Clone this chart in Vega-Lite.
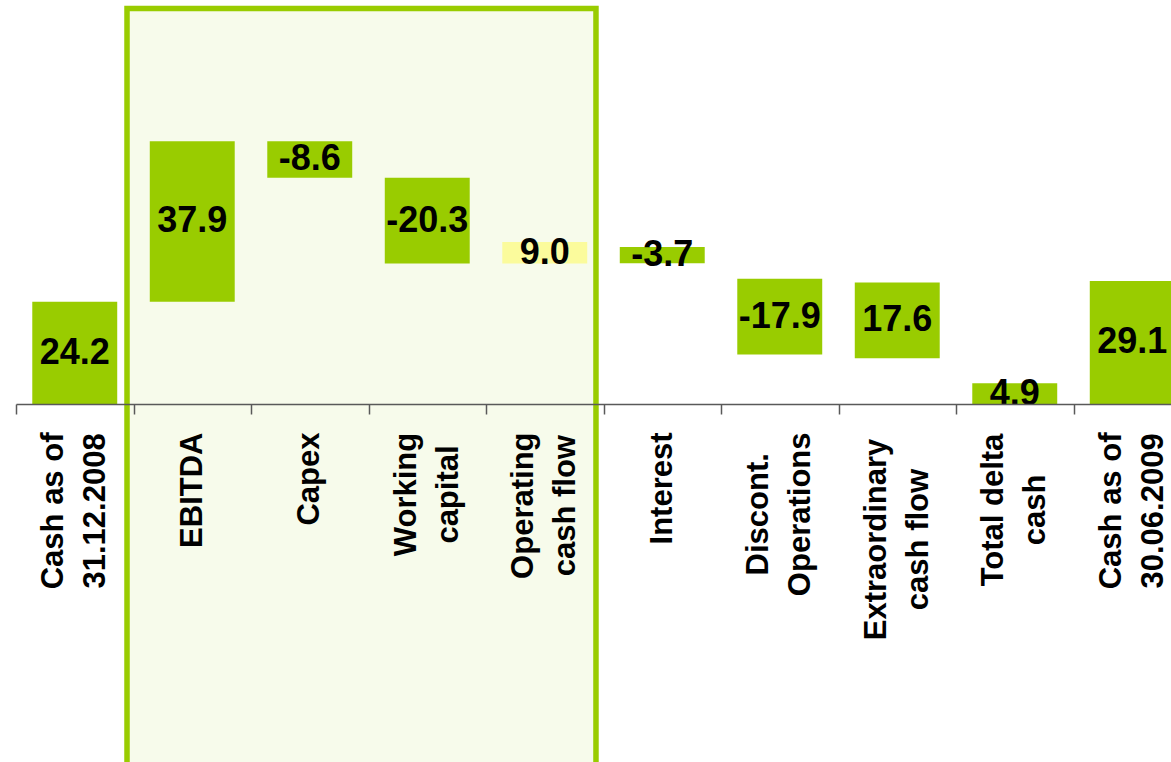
{
  "$schema": "https://vega.github.io/schema/vega-lite/v6.json",
  "width": 1175,
  "height": 404,
  "padding": {"left": 15, "top": 0, "right": 0, "bottom": 0},
  "background": "white",
  "config": {"view": {"stroke": null}},
  "datasets": {
    "steps": [
      {"cat": "Cash as of|31.12.2008", "low": 0, "high": 24.2, "label": "24.2", "kind": "flow"},
      {"cat": "EBITDA", "low": 24.2, "high": 62.1, "label": "37.9", "kind": "flow"},
      {"cat": "Capex", "low": 53.5, "high": 62.1, "label": "-8.6", "kind": "flow"},
      {"cat": "Working|capital", "low": 33.2, "high": 53.5, "label": "-20.3", "kind": "flow"},
      {"cat": "Operating|cash flow", "low": 33.2, "high": 38.3, "label": "9.0", "kind": "highlight"},
      {"cat": "Interest", "low": 33.3, "high": 37.1, "label": "-3.7", "kind": "flow"},
      {"cat": "Discont.|Operations", "low": 11.7, "high": 29.6, "label": "-17.9", "kind": "flow"},
      {"cat": "Extraordinary|cash flow", "low": 10.8, "high": 28.7, "label": "17.6", "kind": "flow"},
      {"cat": "Total delta|cash", "low": 0, "high": 4.9, "label": "4.9", "kind": "flow"},
      {"cat": "Cash as of|30.06.2009", "low": 0, "high": 29.1, "label": "29.1", "kind": "flow"}
    ],
    "box": [
      {"first": "EBITDA", "last": "Operating|cash flow", "top": 93.5, "bottom": -95}
    ]
  },
  "layer": [
    {
      "data": {"name": "box"},
      "mark": {"type": "rect", "fill": "#99cc00", "fillOpacity": 0.08, "stroke": "#99cc00", "strokeWidth": 5.5},
      "encoding": {
        "x": {
          "field": "first", "type": "nominal", "bandPosition": -0.0553,
          "scale": {
            "domain": ["Cash as of|31.12.2008", "EBITDA", "Capex", "Working|capital", "Operating|cash flow", "Interest", "Discont.|Operations", "Extraordinary|cash flow", "Total delta|cash", "Cash as of|30.06.2009"],
            "paddingInner": 0, "paddingOuter": 0
          },
          "axis": {
            "title": null,
            "labelAngle": -90,
            "labelAlign": "center",
            "labelBaseline": "middle",
            "labelFont": "Liberation Sans",
            "labelFontWeight": "bold",
            "labelFontSize": {"condition": {"test": "isString(datum.value)", "value": 31}, "value": 0},
            "labelColor": "black",
            "labelLineHeight": 42,
            "labelLimit": 0,
            "labelExpr": "isString(datum.value) ? split(datum.value, '|') : ''",
            "labelPadding": {"expr": "isString(datum.value) ? [96.4,75.7,64.5,80,91.2,74,99.8,125,95.5,96.4][indexof(['Cash as of|31.12.2008','EBITDA','Capex','Working|capital','Operating|cash flow','Interest','Discont.|Operations','Extraordinary|cash flow','Total delta|cash','Cash as of|30.06.2009'], datum.value)] : 0"},
            "labelOffset": {"expr": "isString(datum.value) && indexof(datum.value, '|') >= 0 ? -21 : 0"},
            "tickBand": "extent",
            "tickSize": 10,
            "tickColor": "#595959",
            "tickWidth": 1.5,
            "domainColor": "#595959",
            "domainWidth": 1.5,
            "grid": false,
            "zindex": 1
          }
        },
        "x2": {"field": "last", "bandPosition": 0.936},
        "y": {"field": "top", "type": "quantitative", "scale": {"domain": [0, 95.5], "nice": false, "zero": false}, "axis": null},
        "y2": {"field": "bottom"}
      }
    },
    {
      "data": {"name": "steps"},
      "mark": {"type": "bar", "width": {"band": 0.723}},
      "encoding": {
        "x": {"field": "cat", "type": "nominal"},
        "y": {"field": "low", "type": "quantitative"},
        "y2": {"field": "high"},
        "color": {"field": "kind", "type": "nominal", "scale": {"domain": ["flow", "highlight"], "range": ["#99cc00", "#fbfb9c"]}, "legend": null}
      }
    },
    {
      "data": {"name": "steps"},
      "transform": [
        {"fold": ["low", "high"], "as": ["end", "v"]},
        {"aggregate": [{"op": "mean", "field": "v", "as": "mid"}], "groupby": ["cat", "label"]}
      ],
      "mark": {"type": "text", "font": "Liberation Sans", "fontWeight": "bold", "fontSize": 36, "baseline": "middle", "align": "center", "color": "black"},
      "encoding": {
        "x": {"field": "cat", "type": "nominal"},
        "y": {"field": "mid", "type": "quantitative"},
        "text": {"field": "label"}
      }
    }
  ]
}
